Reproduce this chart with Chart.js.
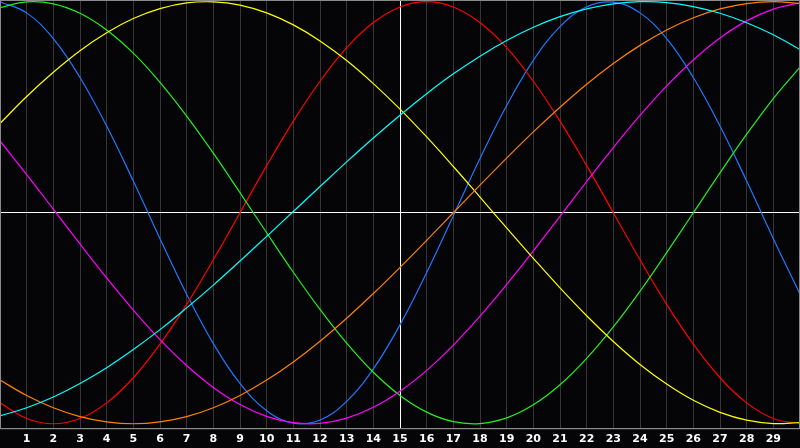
<!DOCTYPE html>
<html>
<head>
<meta charset="utf-8">
<script src="https://cdn.jsdelivr.net/npm/chart.js@4/dist/chart.umd.min.js"></script>
<style>
  html, body { margin: 0; padding: 0; background: #050507; }
  #wrap { width: 800px; height: 448px; }
</style>
</head>
<body>
<div id="wrap"><canvas id="chart"></canvas></div>
<script>
const days = [0,1,2,3,4,5,6,7,8,9,10,11,12,13,14,15,16,17,18,19,20,21,22,23,24,25,26,27,28,29,30];
const tickDays = [1,2,3,4,5,6,7,8,9,10,11,12,13,14,15,16,17,18,19,20,21,22,23,24,25,26,27,28,29];
const todayDay = 15;

// values, one per day 0..30
const blue = [1.00,0.947,0.825,0.641,0.411,0.150,-0.123,-0.386,-0.620,-0.809,-0.938,-0.997,-0.982,-0.894,-0.740,-0.531,-0.283,-0.014,0.257,0.508,0.722,0.882,0.976,0.998,0.947,0.825,0.641,0.411,0.150,-0.123,-0.386];
const red = [-0.901,-0.975,-1,-0.975,-0.901,-0.782,-0.623,-0.434,-0.223,0,0.223,0.434,0.623,0.782,0.901,0.975,1,0.975,0.901,0.782,0.623,0.434,0.223,0,-0.223,-0.434,-0.623,-0.782,-0.901,-0.975,-1];
const green = [0.972,0.999,0.990,0.945,0.866,0.756,0.618,0.458,0.282,0.095,-0.095,-0.282,-0.458,-0.618,-0.756,-0.866,-0.945,-0.990,-0.999,-0.972,-0.910,-0.815,-0.690,-0.541,-0.372,-0.189,0,0.189,0.372,0.541,0.690];
const magenta = [0.340,0.181,0.017,-0.148,-0.309,-0.461,-0.601,-0.724,-0.828,-0.909,-0.965,-0.995,-0.998,-0.973,-0.922,-0.846,-0.747,-0.627,-0.490,-0.340,-0.181,-0.017,0.148,0.309,0.461,0.601,0.724,0.828,0.909,0.965,0.995];
const yellow = [0.423,0.551,0.666,0.768,0.853,0.920,0.967,0.994,0.999,0.984,0.947,0.890,0.814,0.721,0.612,0.491,0.359,0.219,0.074,-0.072,-0.216,-0.356,-0.488,-0.610,-0.719,-0.812,-0.889,-0.946,-0.983,-0.999,-0.994];
const orange = [-0.793,-0.866,-0.924,-0.966,-0.991,-1,-0.991,-0.966,-0.924,-0.866,-0.793,-0.707,-0.609,-0.5,-0.383,-0.259,-0.131,0,0.131,0.259,0.383,0.5,0.609,0.707,0.793,0.866,0.924,0.966,0.991,1,0.991];
const cyan = [-0.963,-0.924,-0.873,-0.809,-0.734,-0.648,-0.554,-0.451,-0.343,-0.229,-0.112,0.006,0.124,0.241,0.354,0.462,0.564,0.658,0.742,0.816,0.879,0.929,0.966,0.990,1.000,0.996,0.977,0.945,0.900,0.843,0.773];

const series = [
  { name: 'Spiritual', values: cyan, color: '#00ffff' },
  { name: 'Awareness', values: orange, color: '#ff8000' },
  { name: 'Aesthetic', values: yellow, color: '#ffff00' },
  { name: 'Intuitive', values: magenta, color: '#ff00ff' },
  { name: 'Intellectual', values: green, color: '#20f020' },
  { name: 'Emotional', values: red, color: '#ff0000' },
  { name: 'Physical', values: blue, color: '#1e78ff' },
];

const frame = {
  id: 'frame',
  afterDraw(chart) {
    const { ctx, chartArea: a } = chart;
    ctx.save();
    ctx.strokeStyle = '#8a8a8a';
    ctx.lineWidth = 1;
    ctx.strokeRect(a.left + 0.5, a.top + 0.5, a.right - a.left - 1, a.bottom - a.top);
    ctx.restore();
  }
};

new Chart(document.getElementById('chart'), {
  type: 'line',
  data: {
    datasets: series.map(s => ({
      label: s.name,
      data: days.map((d, i) => ({ x: d, y: s.values[i] })),
      borderColor: s.color,
      borderWidth: 1.2,
      pointRadius: 0,
      tension: 0.4,
      fill: false,
    }))
  },
  options: {
    responsive: true,
    maintainAspectRatio: false,
    animation: false,
    layout: { padding: { left: 0, right: 0, top: 0, bottom: -3 } },
    plugins: { legend: { display: false }, tooltip: { enabled: false } },
    scales: {
      x: {
        type: 'linear',
        min: 0,
        max: 30,
        afterBuildTicks: (scale) => { scale.ticks = tickDays.map(v => ({ value: v })); },
        ticks: {
          color: '#ffffff',
          font: { family: 'DejaVu Sans', size: 11, weight: 'bold', lineHeight: 0.8 },
          padding: 7,
          maxRotation: 0,
          autoSkip: false,
        },
        grid: {
          color: (c) => c.tick && c.tick.value === todayDay ? '#ffffff' : '#363636',
          lineWidth: 1,
          drawTicks: false,
        },
        border: { color: '#8a8a8a' },
      },
      y: {
        min: -1.021,
        max: 1.008,
        afterBuildTicks: (scale) => { scale.ticks = [{ value: 0 }]; },
        ticks: { display: false },
        grid: { color: '#ffffff', lineWidth: 1, drawTicks: false },
        border: { color: '#8a8a8a' },
      }
    }
  },
  plugins: [frame]
});
</script>
</body>
</html>
